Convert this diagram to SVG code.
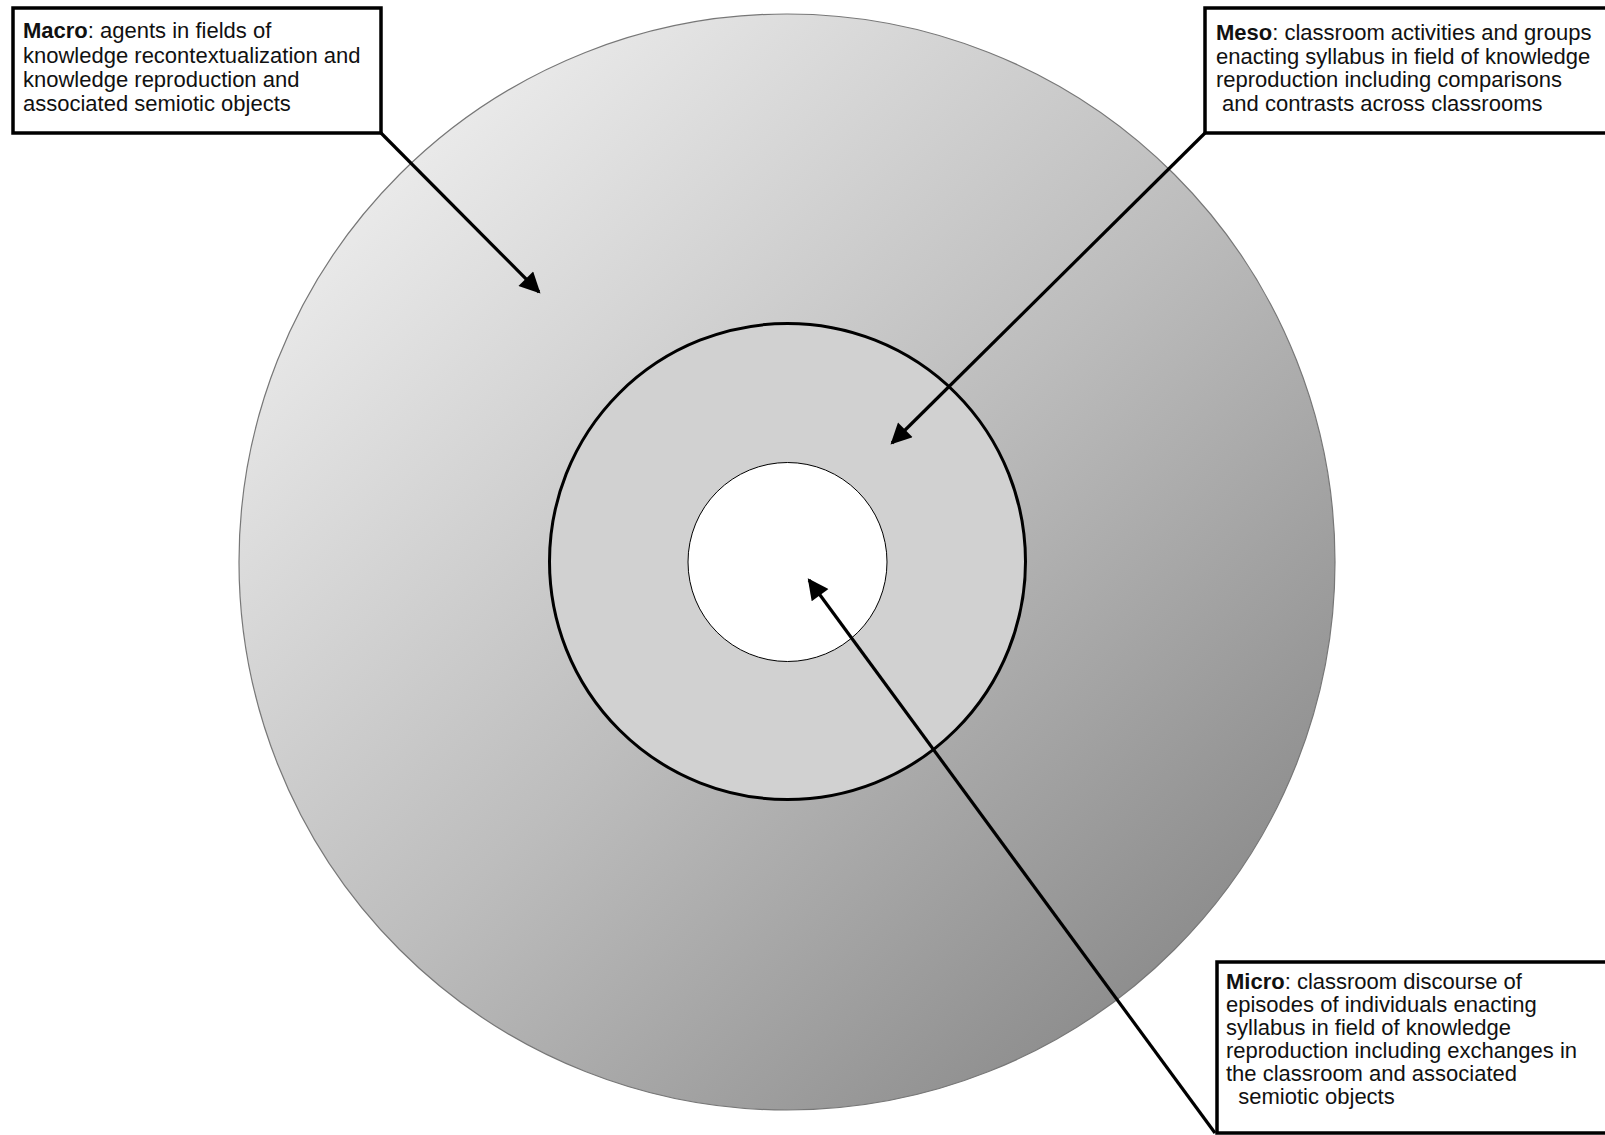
<svg xmlns="http://www.w3.org/2000/svg" width="1605" height="1135" viewBox="0 0 1605 1135">
  <style>
    .box { fill: #ffffff; stroke: #000000; stroke-width: 3.5; }
    .label { font-family: "Liberation Sans", Arial, sans-serif; font-size: 22px; fill: #111111; }
    .label tspan.b { font-weight: bold; }
    .conn { stroke: #000000; stroke-width: 3.2; fill: none; marker-end: url(#head); }
  </style>
  <defs>
    <linearGradient id="outerFill" x1="0.15" y1="0.1" x2="0.9" y2="0.9">
      <stop offset="0" stop-color="#ececec"/>
      <stop offset="0.5" stop-color="#bdbdbd"/>
      <stop offset="1" stop-color="#888888"/>
    </linearGradient>
    <marker id="head" viewBox="0 0 10 10" refX="9" refY="5" markerWidth="7.5" markerHeight="6.5" orient="auto" markerUnits="strokeWidth">
      <path d="M0,0 L10,5 L0,10 z" fill="#000000"/>
    </marker>
  </defs>

  <rect width="1605" height="1135" fill="#ffffff"/>

  <!-- concentric levels -->
  <g id="ring-macro">
    <circle cx="787" cy="562" r="548" fill="url(#outerFill)" stroke="#777777" stroke-width="1.2"/>
  </g>
  <g id="ring-meso">
    <circle cx="787.5" cy="561.5" r="238" fill="#d1d1d1" stroke="#000000" stroke-width="3"/>
  </g>
  <g id="ring-micro">
    <circle cx="787.5" cy="562" r="99.5" fill="#ffffff" stroke="#000000" stroke-width="1"/>
  </g>

  <!-- callout arrows -->
  <g id="connectors">
    <line class="conn" x1="381" y1="133" x2="539" y2="292"/>
    <line class="conn" x1="1205" y1="133" x2="892" y2="443"/>
    <line class="conn" x1="1215" y1="1133" x2="809" y2="580"/>
  </g>

  <g id="macro-label">
    <rect class="box" x="13" y="8" width="368" height="125"/>
    <text class="label" x="23" y="38"><tspan class="b">Macro</tspan>: agents in fields of</text>
    <text class="label" x="23" y="63">knowledge recontextualization and</text>
    <text class="label" x="23" y="87">knowledge reproduction and</text>
    <text class="label" x="23" y="111">associated semiotic objects</text>
  </g>

  <g id="meso-label">
    <rect class="box" x="1205" y="8" width="410" height="125"/>
    <text class="label" x="1216" y="40"><tspan class="b">Meso</tspan>: classroom activities and groups</text>
    <text class="label" x="1216" y="64">enacting syllabus in field of knowledge</text>
    <text class="label" x="1216" y="87">reproduction including comparisons</text>
    <text class="label" x="1216" y="111" xml:space="preserve"> and contrasts across classrooms</text>
  </g>

  <g id="micro-label">
    <rect class="box" x="1217" y="962" width="398" height="171"/>
    <text class="label" x="1226" y="989"><tspan class="b">Micro</tspan>: classroom discourse of</text>
    <text class="label" x="1226" y="1012">episodes of individuals enacting</text>
    <text class="label" x="1226" y="1035">syllabus in field of knowledge</text>
    <text class="label" x="1226" y="1058">reproduction including exchanges in</text>
    <text class="label" x="1226" y="1081">the classroom and associated</text>
    <text class="label" x="1226" y="1104" xml:space="preserve">  semiotic objects</text>
  </g>
</svg>
